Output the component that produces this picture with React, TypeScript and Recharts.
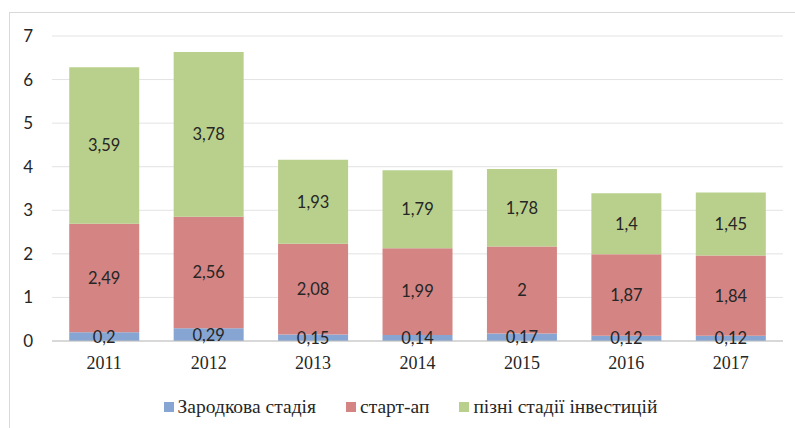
import { BarChart, Bar, XAxis, YAxis, CartesianGrid, Legend, LabelList } from "recharts"

const years = ["2011", "2012", "2013", "2014", "2015", "2016", "2017"]
const seed = [0.2, 0.29, 0.15, 0.14, 0.17, 0.12, 0.12]
const startup = [2.49, 2.56, 2.08, 1.99, 2, 1.87, 1.84]
const late = [3.59, 3.78, 1.93, 1.79, 1.78, 1.4, 1.45]
const yTicks = [0, 1, 2, 3, 4, 5, 6, 7]

const series = [
  { key: "seed", name: "Зародкова стадія", color: "#86a5d3" },
  { key: "startup", name: "старт-ап", color: "#d38483" },
  { key: "late", name: "пізні стадії інвестицій", color: "#b9d08c" },
]

const data = years.map((year, i) => ({
  year,
  seed: seed[i],
  startup: startup[i],
  late: late[i],
}))

const fmt = (v: any) => String(v).replace(".", ",")

const sans = "Lato, 'Open Sans', sans-serif"
const serif = "'Liberation Serif', 'DejaVu Serif', serif"

function LegendBox() {
  return (
    <div style={{ height: 47, display: "flex", justifyContent: "center", alignItems: "center", paddingTop: 4, paddingLeft: 38, boxSizing: "border-box" }}>
      {series.map((s) => (
        <span key={s.key} style={{ display: "inline-flex", alignItems: "center", margin: "0 15px" }}>
          <span style={{ width: 10, height: 10, background: s.color, display: "inline-block", marginRight: 4 }} />
          <span style={{ fontFamily: serif, fontSize: 19.5, color: "#262626", lineHeight: "22px" }}>{s.name}</span>
        </span>
      ))}
    </div>
  )
}

export default function App() {
  return (
    <div style={{ position: "absolute", left: 0, top: 0, width: 795, height: 428, background: "#fff", overflow: "hidden" }}>
      <div style={{ position: "absolute", left: 9, top: 12, width: 800, height: 430, border: "1px solid #d9d9d9" }} />
      <BarChart width={795} height={428} data={data} margin={{ top: 36, right: 12, left: 0, bottom: 0 }} barCategoryGap="16.5%">
        <CartesianGrid vertical={false} stroke="#e3e3e3" />
        <XAxis
          dataKey="year"
          height={40}
          tickLine={false}
          tickSize={0}
          tickMargin={15}
          axisLine={{ stroke: "#bfbfbf" }}
          tick={{ fill: "#262626", fontSize: 18, fontFamily: serif }}
        />
        <YAxis
          width={52}
          domain={[0, 7]}
          ticks={yTicks}
          axisLine={false}
          tickLine={false}
          tickSize={0}
          tickMargin={19}
          tick={{ fill: "#262626", fontSize: 17, fontFamily: sans }}
        />
        <Legend verticalAlign="bottom" height={47} content={() => <LegendBox />} />
        {series.map((s) => (
          <Bar key={s.key} dataKey={s.key} name={s.name} stackId="a" fill={s.color} isAnimationActive={false}>
            <LabelList dataKey={s.key} position="center" formatter={fmt} style={{ fill: "#262626", fontSize: 16.5, fontFamily: sans }} />
          </Bar>
        ))}
      </BarChart>
    </div>
  )
}
